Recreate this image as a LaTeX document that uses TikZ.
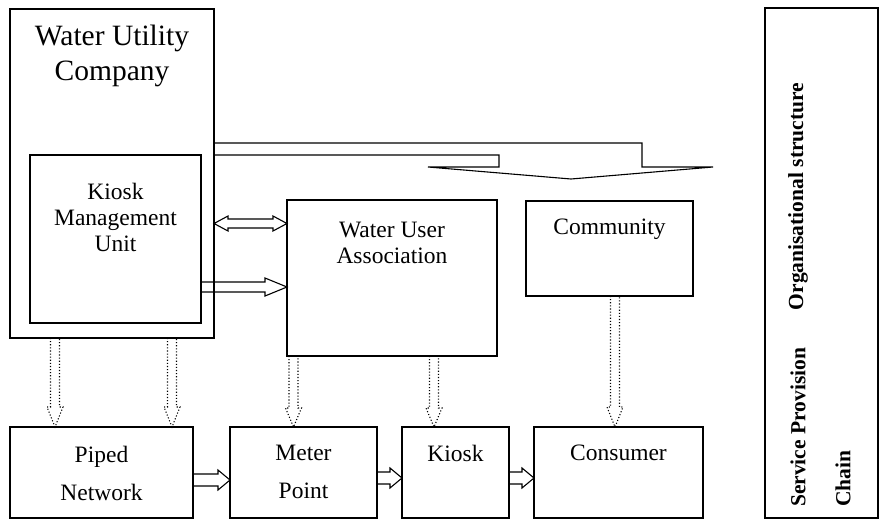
\documentclass[tikz,border=0pt]{standalone}
\usepackage{fontspec}
\setmainfont{Liberation Serif}
\usetikzlibrary{calc}
\tikzset{
  box/.style={draw, line width=1.3pt, inner sep=0pt, outer sep=0pt, anchor=north west},
  lbl/.style={align=center, inner sep=0pt, font=\fontsize{23.5}{26}\selectfont},
  lblwide/.style={align=center, inner sep=0pt, font=\fontsize{23.5}{38}\selectfont},
  ttl/.style={align=center, inner sep=0pt, font=\fontsize{29.5}{35}\selectfont},
  legtext/.style={inner sep=0pt, rotate=90, font=\fontsize{21.5}{26}\selectfont\bfseries},
  solidarrow/.style={line width=1.1pt, line join=miter},
  dotarrow/.style={line width=1.1pt, dotted},
}
% right-pointing hollow arrow: style, start, end, shaft half width, head half width, head length
\newcommand\RightHollow[6]{%
  \draw[#1] let \p1=#2, \p2=#3 in
    (\x1,\y1+#4) -- (\x2-#6,\y1+#4) -- (\x2-#6,\y1+#5) -- (\x2,\y1)
    -- (\x2-#6,\y1-#5) -- (\x2-#6,\y1-#4) -- (\x1,\y1-#4) -- cycle;}
% double-headed horizontal hollow arrow
\newcommand\BothHollow[6]{%
  \draw[#1] let \p1=#2, \p2=#3 in
    (\x1,\y1) -- (\x1+#6,\y1+#5) -- (\x1+#6,\y1+#4) -- (\x2-#6,\y1+#4) -- (\x2-#6,\y1+#5) -- (\x2,\y1)
    -- (\x2-#6,\y1-#5) -- (\x2-#6,\y1-#4) -- (\x1+#6,\y1-#4) -- (\x1+#6,\y1-#5) -- cycle;}
% downward hollow arrow
\newcommand\DownHollow[6]{%
  \draw[#1] let \p1=#2, \p2=#3 in
    (\x1-#4,\y1) -- (\x1-#4,\y2+#6) -- (\x1-#5,\y2+#6) -- (\x1,\y2)
    -- (\x1+#5,\y2+#6) -- (\x1+#4,\y2+#6) -- (\x1+#4,\y1);}
\begin{document}
\begin{tikzpicture}[x=1pt,y=-1pt]
\useasboundingbox (0,0) rectangle (885,520);
% boxes
\node[box, minimum width=204pt, minimum height=329pt] (wuc) at (10,9) {};
\node[box, minimum width=171pt, minimum height=168pt] (kmu) at (30,155) {};
\node[box, minimum width=210pt, minimum height=156pt] (wua) at (287,200) {};
\node[box, minimum width=167pt, minimum height=95pt] (com) at (526,201) {};
\node[box, minimum width=183pt, minimum height=91pt] (pipe) at (10,427) {};
\node[box, minimum width=147pt, minimum height=91pt] (meter) at (230,427) {};
\node[box, minimum width=107pt, minimum height=91pt] (kiosk) at (402,427) {};
\node[box, minimum width=169pt, minimum height=91pt] (cons) at (534,427) {};
\node[box, minimum width=113pt, minimum height=510pt] (leg) at (765,8) {};
% texts
\node[ttl] (wuctext) at (112,56) {Water Utility\\Company};
\node[lbl] (kmutext) at (115.5,217) {Kiosk\\Management\\Unit};
\node[lbl] (wuatext) at (392,243) {Water User\\Association};
\node[lbl] (comtext) at (609.5,229) {Community};
\node[lblwide] (pipetext) at (101.5,473) {Piped\\Network};
\node[lblwide] (metertext) at (303.5,472) {Meter\\Point};
\node[lbl] (kiosktext) at (455.5,453) {Kiosk};
\node[lbl] (constext) at (618.5,453) {Consumer};
\node[legtext] (orgtext) at (798,196.5) {Organisational structure};
\node[legtext, anchor=west] (sptext) at (798,507) {Service Provision};
\node[legtext, anchor=west] (chaintext) at (843,507) {Chain};
% big bent arrow from the company towards the community
\draw[solidarrow] (wuc.east |- 0,143) -- (642,143) -- (642,167) -- (713,167) -- (571,179)
   -- (428,167) -- (499,167) -- (499,155) -- (wuc.east |- 0,155);
% horizontal hollow arrows
\BothHollow{solidarrow}{(wuc.east |- 0,223.5)}{(wua.west |- 0,223.5)}{4.5pt}{7.5pt}{14pt}
\RightHollow{solidarrow}{(kmu.east |- 0,287)}{(wua.west |- 0,287)}{5pt}{9pt}{22pt}
\RightHollow{solidarrow}{(pipe.east |- 0,480)}{(meter.west |- 0,480)}{6pt}{10pt}{12pt}
\RightHollow{solidarrow}{(meter.east |- 0,478)}{(kiosk.west |- 0,478)}{6pt}{10pt}{12pt}
\RightHollow{solidarrow}{(kiosk.east |- 0,478)}{(cons.west |- 0,478)}{6pt}{10pt}{12pt}
% dotted hollow arrows
\DownHollow{dotarrow}{(55,0 |- wuc.south)}{(55,0 |- pipe.north)}{4.5pt}{8pt}{20pt}
\DownHollow{dotarrow}{(172,0 |- wuc.south)}{(172,0 |- pipe.north)}{4.5pt}{8pt}{20pt}
\DownHollow{dotarrow}{(293.5,0 |- wua.south)}{(293.5,0 |- meter.north)}{4.5pt}{8pt}{19pt}
\DownHollow{dotarrow}{(434,0 |- wua.south)}{(434,0 |- kiosk.north)}{4.5pt}{8pt}{19pt}
\DownHollow{dotarrow}{(615,0 |- com.south)}{(615,0 |- cons.north)}{4.5pt}{8pt}{20pt}
\end{tikzpicture}
\end{document}
